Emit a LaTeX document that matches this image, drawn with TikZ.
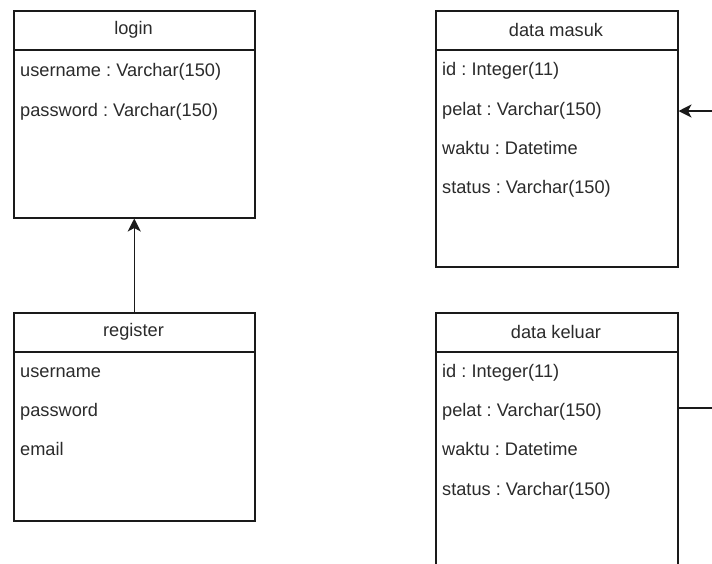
\documentclass[tikz,border=0pt]{standalone}
\usepackage{fontspec}
\setmainfont{Liberation Sans}
\usetikzlibrary{arrows.meta}
\frenchspacing
\definecolor{ink}{HTML}{1A1A1A}
\definecolor{txt}{HTML}{2B2B2B}
\tikzset{
  tbl/.style={draw=ink, line width=1.5pt, fill=white, anchor=north west, inner sep=0pt},
  hdr/.style={font=\fontsize{18.2}{21}\selectfont, text=txt, anchor=center, inner sep=0pt},
  field/.style={font=\fontsize{18.2}{21}\selectfont, text=txt, anchor=base west, inner sep=0pt},
  link/.style={draw=ink, line width=1.5pt},
  arrowhead/.style={-{Stealth[length=13pt,width=13pt,inset=3.5pt]}},
}
\begin{document}
\begin{tikzpicture}[x=1pt,y=-1pt]
  \useasboundingbox (0,0) rectangle (712,563);
  \clip (0,0) rectangle (712,563);

  % table boxes
  \node[tbl, minimum width=241pt, minimum height=207pt] (login) at (13,10) {};
  \node[tbl, minimum width=241pt, minimum height=208pt] (register) at (13,312) {};
  \node[tbl, minimum width=242pt, minimum height=256pt] (masuk) at (435,10) {};
  \node[tbl, minimum width=242pt, minimum height=300pt] (keluar) at (435,312) {};

  % header separators
  \draw[link] (13,50) -- (254,50);
  \draw[link] (13,352) -- (254,352);
  \draw[link] (435,50) -- (677,50);
  \draw[link] (435,352) -- (677,352);

  % headers
  \node[hdr] (loginT) at (133.5,30) {login};
  \node[hdr] (registerT) at (133.5,332) {register};
  \node[hdr] (masukT) at (556,30) {data masuk};
  \node[hdr] (keluarT) at (556,332) {data keluar};

  % login fields
  \node[field] (l1) at (20,76) {username : Varchar(150)};
  \node[field] (l2) at (20,116) {password : Varchar(150)};

  % register fields
  \node[field] (r1) at (20,377) {username};
  \node[field] (r2) at (20,416) {password};
  \node[field] (r3) at (20,455) {email};

  % data masuk fields
  \node[field] (m1) at (442,75) {id : Integer(11)};
  \node[field] (m2) at (442,115) {pelat : Varchar(150)};
  \node[field] (m3) at (442,154) {waktu : Datetime};
  \node[field] (m4) at (442,193) {status : Varchar(150)};

  % data keluar fields
  \node[field] (k1) at (442,377) {id : Integer(11)};
  \node[field] (k2) at (442,416) {pelat : Varchar(150)};
  \node[field] (k3) at (442,455) {waktu : Datetime};
  \node[field] (k4) at (442,495) {status : Varchar(150)};

  % connectors
  \draw[link, arrowhead] (register.north) -- (login.south);
  \coordinate (inEnd) at (712,111);
  \coordinate (outEnd) at (712,408);
  \draw[link, arrowhead] (inEnd) -- (masuk.east |- inEnd);
  \draw[link] (keluar.east |- outEnd) -- (outEnd);
\end{tikzpicture}
\end{document}
